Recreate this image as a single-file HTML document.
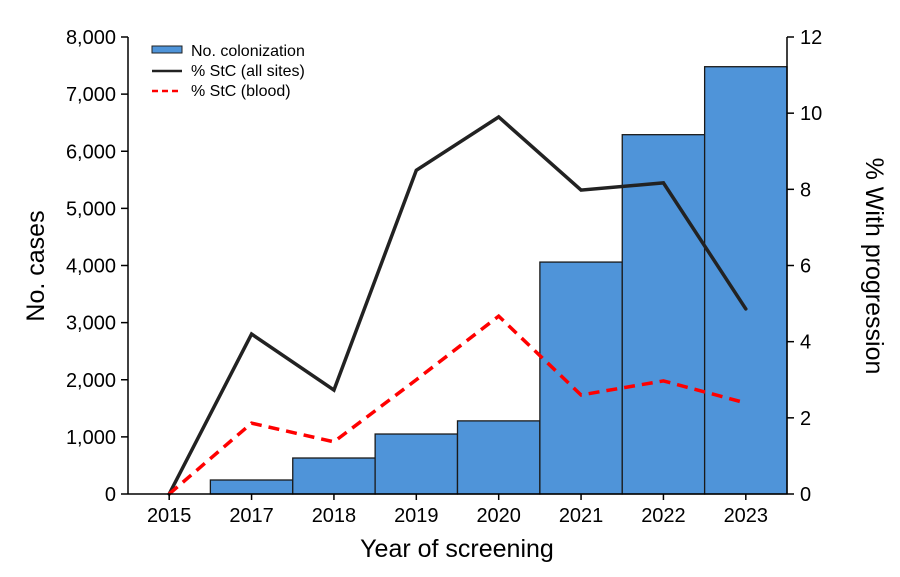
<!DOCTYPE html>
<html><head><meta charset="utf-8"><style>
html,body{margin:0;padding:0;background:#fff;}
svg text{font-family:"Liberation Sans",sans-serif;fill:#000;}
</style></head><body>
<svg id="chart" width="900" height="572" viewBox="0 0 900 572" xmlns="http://www.w3.org/2000/svg">
<g id="bars"></g>
<g id="lines"></g>
<g id="axes"></g>
<text x="0" y="0" transform="translate(44,266) rotate(-90)" text-anchor="middle" font-size="25">No. cases</text>
<text x="0" y="0" transform="translate(866,266) rotate(90)" text-anchor="middle" font-size="25">% With progression</text>
<text x="457" y="557" text-anchor="middle" font-size="25">Year of screening</text>
<g>
<rect x="152" y="46" width="30" height="7" fill="#4f94d9" stroke="#222" stroke-width="1"/>
<text x="191" y="56" font-size="16">No. colonization</text>
<line x1="152" y1="71" x2="182" y2="71" stroke="#222" stroke-width="2.5"/>
<text x="191" y="76" font-size="16">% StC (all sites)</text>
<line x1="152" y1="91" x2="182" y2="91" stroke="#f00" stroke-width="2.5" stroke-dasharray="6,4"/>
<text x="191" y="96" font-size="16">% StC (blood)</text>
</g>
</svg>
<script>
const categories = ["2015","2017","2018","2019","2020","2021","2022","2023"];
const colonization = [0,245,630,1050,1280,4060,6290,7480];
const stcAll = [0,4.2,2.73,8.5,9.9,7.98,8.17,4.86];
const stcBlood = [0,1.86,1.37,3.0,4.67,2.6,2.97,2.39];
const leftTicks = [0,1000,2000,3000,4000,5000,6000,7000,8000];
const leftTickLabels = ["0","1,000","2,000","3,000","4,000","5,000","6,000","7,000","8,000"];
const rightTicks = [0,2,4,6,8,10,12];

const NS="http://www.w3.org/2000/svg";
const X0=128,X1=787,Y0=494,Y1=37;
const band=(X1-X0)/categories.length;
const xC=i=>X0+band*(i+0.5);
const yL=v=>Y0-(v/8000)*(Y0-Y1);
const yR=v=>Y0-(v/12)*(Y0-Y1);
function mk(tag,attrs,parent){const e=document.createElementNS(NS,tag);for(const k in attrs)e.setAttribute(k,attrs[k]);parent.appendChild(e);return e;}
const gB=document.getElementById('bars'),gL=document.getElementById('lines'),gA=document.getElementById('axes');
colonization.forEach((v,i)=>{
  if(v<=0)return;
  const r=mk('rect',{x:X0+band*i,y:yL(v),width:band,height:Y0-yL(v),fill:'#4f94d9',stroke:'#1a1a1a','stroke-width':1.3},gB);
  
  
});
const pAll=mk('polyline',{points:stcAll.map((v,i)=>xC(i)+','+yR(v)).join(' '),fill:'none',stroke:'#222','stroke-width':3.5,'stroke-linejoin':'miter','stroke-linecap':'round'},gL);


const pBl=mk('polyline',{points:stcBlood.map((v,i)=>xC(i)+','+yR(v)).join(' '),fill:'none',stroke:'#f00','stroke-width':3.5,'stroke-dasharray':'11,7'},gL);


// axes
const la=mk('line',{x1:X0,y1:Y1,x2:X0,y2:Y0,stroke:'#000','stroke-width':1.5},gA);


const ra=mk('line',{x1:X1,y1:Y1,x2:X1,y2:Y0,stroke:'#000','stroke-width':1.5},gA);


const xa=mk('line',{x1:X0,y1:Y0,x2:X1,y2:Y0,stroke:'#000','stroke-width':1.5},gA);


leftTicks.forEach((v,i)=>{
  mk('line',{x1:X0-7,y1:yL(v),x2:X0,y2:yL(v),stroke:'#000','stroke-width':1.5},gA);
  const t=mk('text',{x:X0-12,y:yL(v)+7,'text-anchor':'end','font-size':20},gA);
  t.textContent=leftTickLabels[i];
  
  
});
rightTicks.forEach(v=>{
  mk('line',{x1:X1,y1:yR(v),x2:X1+7,y2:yR(v),stroke:'#000','stroke-width':1.5},gA);
  const t=mk('text',{x:X1+13,y:yR(v)+7,'text-anchor':'start','font-size':20},gA);
  t.textContent=String(v);
  
  
});
categories.forEach((c,i)=>{
  mk('line',{x1:xC(i),y1:Y0,x2:xC(i),y2:Y0+6,stroke:'#000','stroke-width':1.5},gA);
  const t=mk('text',{x:xC(i),y:Y0+28,'text-anchor':'middle','font-size':20},gA);
  t.textContent=c;
  
  
});
</script>
</body></html>
